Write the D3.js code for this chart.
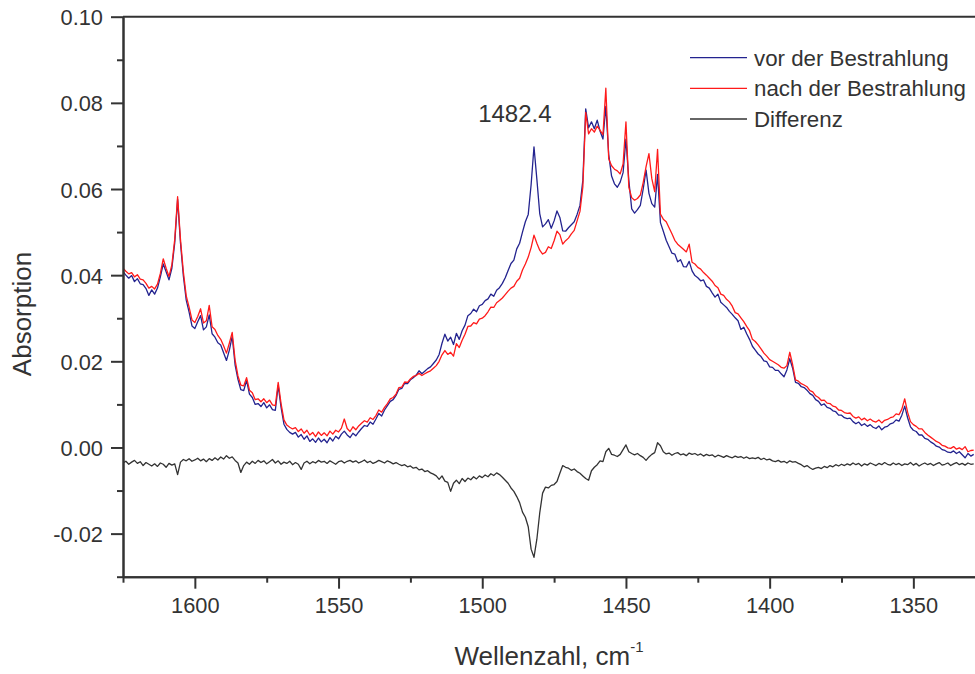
<!DOCTYPE html>
<html>
<head>
<meta charset="utf-8">
<script src="https://cdn.jsdelivr.net/npm/d3@7"></script>
<style>
  html, body { margin: 0; padding: 0; background: #fff; }
  svg { display: block; }
  text { font-family: Arial, "Liberation Sans", Helvetica, sans-serif; fill: #333; }
</style>
</head>
<body>
<svg id="chart" width="975" height="674"></svg>
<script>
// ---- DATA (absorption values in milli-units, 1 cm^-1 grid from 1625 down to 1329 cm^-1) ----
const waveStart = 1625;
const waveEnd = 1329;

const vorBestrahlung = [
  40.8, 40.0, 39.3, 39.9, 38.5, 39.2, 38.0, 37.8, 36.9, 35.3,
  36.6, 35.6, 37.0, 39.6, 42.6, 40.8, 38.9, 41.6, 47.5, 57.6,
  47.5, 39.8, 34.2, 31.4, 28.2, 27.6, 29.2, 30.6, 27.3, 28.0,
  30.8, 26.4, 25.6, 24.3, 23.8, 22.0, 20.2, 22.6, 25.8, 19.2,
  15.8, 13.4, 13.2, 15.6, 12.4, 11.6, 10.0, 10.2, 9.5, 10.4,
  9.2, 9.9, 8.8, 8.6, 14.4, 9.3, 5.4, 4.2, 3.5, 3.1,
  3.5, 2.4, 3.0, 1.9, 2.7, 1.4, 2.0, 1.2, 2.2, 1.3,
  1.9, 1.1, 2.3, 1.5, 2.6, 2.0, 3.1, 3.8, 2.9, 2.3,
  3.3, 2.7, 3.6, 4.4, 5.1, 4.9, 5.9, 5.4, 6.6, 7.9,
  7.3, 8.7, 9.7, 10.7, 11.1, 12.1, 13.5, 13.7, 14.9, 14.8,
  15.7, 16.2, 16.8, 17.8, 17.1, 17.7, 18.3, 18.7, 19.5, 20.3,
  21.6, 24.2, 26.3, 24.7, 25.6, 23.9, 26.5, 25.1, 27.1, 28.4,
  30.6, 31.1, 32.1, 31.5, 32.9, 33.2, 34.1, 34.5, 35.6, 35.1,
  36.5, 37.1, 38.1, 39.4, 41.1, 42.7, 43.5, 46.1, 47.4, 50.0,
  52.4, 54.1, 61.0, 69.8, 62.3, 54.3, 51.2, 51.9, 52.9, 50.9,
  52.6, 54.9, 53.4, 50.3, 50.2, 51.0, 51.7, 52.4, 54.1, 56.2,
  62.0, 78.6, 74.2, 75.6, 74.0, 76.0, 73.4, 71.6, 79.2, 68.0,
  63.0, 61.2, 60.4, 61.6, 63.8, 71.6, 62.0, 55.4, 54.4, 55.2,
  56.2, 60.0, 64.4, 59.0, 56.6, 55.8, 63.4, 52.2, 50.2, 48.1,
  46.6, 45.1, 44.9, 43.1, 43.6, 42.0, 41.9, 43.2, 41.0, 39.9,
  39.4, 38.7, 38.9, 37.4, 37.0, 35.9, 34.9, 35.6, 33.7, 33.1,
  32.5, 31.6, 30.9, 30.1, 29.4, 27.4, 27.9, 26.4, 25.1, 23.5,
  22.6, 21.7, 21.1, 20.1, 19.9, 18.7, 18.6, 17.9, 17.9, 17.1,
  16.4, 18.0, 20.6, 18.4, 15.1, 14.9, 14.1, 13.9, 13.3, 12.5,
  12.1, 11.1, 10.7, 9.8, 10.1, 9.3, 9.1, 8.5, 8.3, 7.5,
  7.5, 6.9, 6.7, 6.8, 6.0, 5.5, 5.9, 5.1, 5.5, 4.9,
  5.3, 4.7, 4.4, 5.0, 4.1, 4.7, 4.9, 5.5, 5.7, 6.4,
  6.1, 7.5, 9.6, 6.9, 4.8, 4.0, 3.7, 2.9, 2.9, 2.1,
  1.9, 1.3, 0.9, 0.3, 0.1, -0.5, -0.7, -1.1, -1.2, -0.8,
  -1.4, -1.0, -1.7, -2.4, -1.4, -2.0, -1.6
];

const nachBestrahlung = [
  41.6, 40.9, 40.3, 40.6, 39.6, 40.1, 39.1, 38.9, 38.1, 37.0,
  37.4, 36.8, 37.9, 40.4, 43.8, 41.6, 39.7, 42.4, 48.3, 58.2,
  48.3, 40.8, 35.2, 32.6, 29.6, 29.0, 30.4, 32.2, 28.9, 29.4,
  33.0, 28.0, 27.4, 26.0, 25.1, 23.6, 21.9, 24.2, 26.7, 20.3,
  16.6, 14.5, 14.3, 16.2, 13.3, 12.7, 11.1, 11.3, 10.6, 11.3,
  10.4, 11.0, 9.9, 9.7, 15.1, 10.2, 6.4, 5.2, 4.7, 4.3,
  4.6, 3.7, 4.3, 3.3, 4.0, 2.9, 3.5, 2.5, 3.6, 2.8,
  3.4, 2.7, 3.8, 3.1, 4.0, 3.6, 4.5, 6.6, 4.4, 3.7,
  4.8, 4.1, 5.0, 5.6, 6.2, 5.9, 6.9, 6.5, 7.4, 8.7,
  8.2, 9.3, 10.2, 11.3, 11.6, 12.4, 13.9, 14.0, 15.2, 15.1,
  15.9, 16.5, 16.7, 17.2, 16.7, 17.1, 17.5, 17.8, 18.4, 19.0,
  20.0, 21.5, 22.5, 21.6, 22.1, 21.2, 24.1, 23.2, 24.9, 26.3,
  28.1, 28.2, 29.0, 28.7, 29.8, 30.0, 30.6, 31.5, 32.6, 32.5,
  33.6, 34.1, 34.7, 35.5, 36.3, 37.0, 37.4, 38.6, 39.3, 41.2,
  42.6, 44.2, 46.4, 49.3, 47.4, 45.8, 44.9, 45.3, 46.6, 46.2,
  48.0, 50.2, 49.4, 47.2, 48.0, 48.6, 49.6, 50.4, 52.6, 54.8,
  60.5, 77.8, 72.8, 74.0, 73.2, 74.6, 73.6, 72.6, 83.4, 67.0,
  65.4, 64.6, 64.2, 63.5, 65.8, 75.6, 60.4, 58.0, 57.4, 57.8,
  58.6, 61.5, 65.2, 68.2, 62.4, 59.4, 69.2, 54.2, 53.0, 52.4,
  51.0, 49.6, 48.1, 47.2, 46.6, 46.0, 45.4, 47.2, 43.0, 42.6,
  41.8, 41.4, 40.6, 40.0, 39.3, 38.6, 37.6, 37.1, 35.6, 35.3,
  34.4, 33.8, 32.8, 31.3, 31.0, 30.1, 29.2, 28.1, 27.1, 25.1,
  24.6, 23.8, 22.9, 21.9, 21.2, 20.4, 20.0, 19.6, 19.2, 18.6,
  18.4, 19.0, 22.1, 19.2, 15.7, 15.4, 14.8, 14.5, 14.1, 13.2,
  12.9, 12.0, 11.6, 10.9, 11.0, 10.3, 10.2, 9.6, 9.4, 8.7,
  8.6, 8.1, 7.9, 8.0, 7.2, 6.8, 7.1, 6.4, 6.8, 6.2,
  6.6, 6.1, 5.9, 6.4, 5.7, 6.3, 6.5, 6.9, 7.1, 7.8,
  7.6, 8.9, 11.3, 8.2, 6.0, 5.3, 4.9, 4.3, 4.3, 3.5,
  2.9, 2.4, 1.9, 1.4, 1.1, 0.5, 0.3, -0.1, -0.2, 0.2,
  -0.4, -0.1, -0.5, 0.2, -1.0, -0.7, -0.6
];

const differenz = [
  -3.6, -3.2, -3.9, -3.4, -3.0, -3.7, -3.3, -4.2, -3.5, -3.9,
  -4.3, -3.8, -4.4, -3.6, -3.9, -4.6, -3.7, -4.1, -3.8, -6.3,
  -3.4, -2.8, -3.1, -2.6, -3.2, -2.9, -2.5, -3.1, -2.7, -3.3,
  -2.6, -3.0, -2.4, -2.9, -2.2, -2.7, -1.9, -2.5, -2.2, -3.0,
  -3.6, -5.8, -4.2, -3.4, -3.9, -3.2, -3.7, -3.0, -3.5, -3.1,
  -3.8, -3.3, -2.8, -3.6, -3.1, -3.9, -3.4, -3.7, -3.2, -4.0,
  -3.5, -3.9, -5.1, -3.6, -3.2, -3.8, -3.3, -3.6, -3.0, -3.4,
  -3.2, -3.7, -3.1, -3.5, -3.9, -3.3, -3.1, -3.6, -3.2, -3.0,
  -3.4, -3.1, -3.6, -3.3, -2.9, -3.5, -3.2, -3.7, -3.4, -3.0,
  -3.3, -3.6, -3.1, -3.4, -3.8, -3.5, -3.9, -4.2, -4.0, -4.5,
  -4.3, -4.8, -4.6, -5.2, -5.0, -5.6, -5.4, -5.9, -6.2, -6.6,
  -7.4, -6.6, -7.8, -8.1, -10.2, -8.3, -7.6, -8.4, -7.2, -7.9,
  -7.1, -7.5, -6.8, -7.3, -6.6, -7.0, -6.4, -6.8, -6.1, -6.5,
  -5.9, -6.3, -6.9, -7.6, -8.3, -9.4, -10.2, -11.4, -12.8, -15.0,
  -16.2, -18.4, -23.6, -25.5, -21.3, -15.2, -10.6, -9.2, -9.4, -8.8,
  -8.6, -7.9, -6.0, -4.2, -4.6, -4.8, -5.3, -5.0, -5.6, -6.0,
  -6.6, -7.2, -7.6, -5.4, -4.6, -4.0, -3.1, -3.3, -1.0, -0.2,
  -1.6, -1.8, -2.1, -1.6, -0.5, 0.6, -1.0, -1.4, -1.7, -1.4,
  -1.9, -2.3, -3.0, -2.2, -1.6, -1.2, 1.1, 0.4, -1.0, -1.5,
  -1.3, -1.8, -1.4, -1.2, -1.7, -1.5, -1.9, -1.3, -1.6, -1.4,
  -1.8, -1.5, -2.0, -1.6, -1.9, -1.7, -2.2, -1.8, -2.0, -2.3,
  -1.9, -2.2, -2.4, -2.0, -2.3, -2.1, -2.5, -2.2, -2.6, -2.4,
  -2.6, -2.3, -2.8, -2.5, -2.9, -2.7, -3.1, -3.3, -3.0, -3.4,
  -3.2, -3.6, -3.1, -3.4, -3.3, -3.7, -4.0, -4.5, -4.2, -4.7,
  -5.1, -4.8, -4.6, -4.9, -4.4, -4.7, -4.2, -4.5, -4.0, -4.3,
  -3.9, -4.2, -3.8, -4.1, -3.6, -4.0, -3.7, -4.3, -3.8, -4.1,
  -3.6, -3.9, -4.2, -3.7, -4.0, -3.5, -3.9, -4.1, -3.6, -4.0,
  -3.7, -4.2, -3.8, -4.0, -3.5, -4.1, -3.7, -4.3, -3.9, -3.6,
  -4.0, -3.7, -4.2, -3.8, -3.5, -4.1, -3.9, -3.6, -4.2, -3.8,
  -3.5, -4.0, -3.7, -4.1, -3.6, -3.9, -3.8
];

const seriesNames = ["vor der Bestrahlung", "nach der Bestrahlung", "Differenz"];
const seriesColors = ["#23238f", "#ff1a1a", "#333333"];

const xMajorTicks = [1600, 1550, 1500, 1450, 1400, 1350];
const xMajorLabels = ["1600", "1550", "1500", "1450", "1400", "1350"];
const xMinorTicks = [1625, 1575, 1525, 1475, 1425, 1375, 1325];
const yMajorTicks = [-20, 0, 20, 40, 60, 80, 100];
const yMajorLabels = ["-0.02", "0.00", "0.02", "0.04", "0.06", "0.08", "0.10"];
const yMinorTicks = [-30, -10, 10, 30, 50, 70, 90];

const annotationText = "1482.4";
const annotationX = 1482.4;
const annotationY = 75.5;

// ---- CHART ----
const svg = d3.select("#chart");
const W = 975, H = 674;
const plotLeft = 123, plotTop = 16.7, plotBottom = 576.7;

const x = d3.scaleLinear().domain([1625, 1325]).range([plotLeft, 985.2]);
const y = d3.scaleLinear().domain([-30, 100]).range([plotBottom, plotTop]);

const waves = d3.range(waveStart, waveEnd - 0.5, -1);
const allSeries = [vorBestrahlung, nachBestrahlung, differenz];

svg.append("defs").append("clipPath").attr("id", "clip")
  .append("rect").attr("x", plotLeft).attr("y", plotTop).attr("width", W - plotLeft).attr("height", plotBottom - plotTop);

const line = d3.line().x(d => x(d[0])).y(d => y(d[1]));

const plot = svg.append("g").attr("clip-path", "url(#clip)");
allSeries.forEach((s, i) => {
  plot.append("path")
    .datum(waves.map((w, j) => [w, s[j]]))
    .attr("fill", "none")
    .attr("stroke", seriesColors[i])
    .attr("stroke-width", 1.3)
    .attr("stroke-linejoin", "round")
    .attr("d", line);
});

const axisColor = "#333";
const fontSize = 21.8;

function styleAxis(g) {
  g.selectAll("path.domain").attr("stroke", axisColor).attr("stroke-width", 2);
  g.selectAll(".tick line").attr("stroke", axisColor).attr("stroke-width", 2);
  g.selectAll(".tick text").attr("fill", "#333").style("font-size", fontSize + "px")
    .style("font-family", "Arial, 'Liberation Sans', sans-serif");
}

// y axis
const yMinor = svg.append("g").attr("transform", `translate(${plotLeft},0)`)
  .call(d3.axisLeft(y).tickValues(yMinorTicks).tickSize(6).tickSizeOuter(0).tickFormat(""));
styleAxis(yMinor);
const yMajor = svg.append("g").attr("transform", `translate(${plotLeft},0)`)
  .call(d3.axisLeft(y).tickValues(yMajorTicks).tickSize(12).tickSizeOuter(0).tickPadding(8)
    .tickFormat((d, i) => yMajorLabels[i]));
styleAxis(yMajor);
yMajor.selectAll(".tick text").attr("dy", "0.37em");

// x axis
const xMinor = svg.append("g").attr("transform", `translate(0,${plotBottom})`)
  .call(d3.axisBottom(x).tickValues(xMinorTicks).tickSize(6).tickSizeOuter(0).tickFormat(""));
styleAxis(xMinor);
const xMajor = svg.append("g").attr("transform", `translate(0,${plotBottom})`)
  .call(d3.axisBottom(x).tickValues(xMajorTicks).tickSize(12).tickSizeOuter(0).tickPadding(9)
    .tickFormat((d, i) => xMajorLabels[i]));
styleAxis(xMajor);

// top frame line
svg.append("line").attr("x1", plotLeft).attr("x2", W + 10).attr("y1", plotTop).attr("y2", plotTop)
  .attr("stroke", axisColor).attr("stroke-width", 2);

// axis titles
const xt = svg.append("text").attr("x", 549).attr("y", 665).attr("text-anchor", "middle")
  .style("font-size", "26px");
xt.append("tspan").text("Wellenzahl, cm");
xt.append("tspan").attr("dy", -13).style("font-size", "15px").text("-1");

svg.append("text").attr("transform", "translate(31,314) rotate(-90)")
  .attr("text-anchor", "middle").style("font-size", "26px").text("Absorption");

// annotation
svg.append("text").attr("x", x(annotationX) - 18).attr("y", y(annotationY))
  .attr("text-anchor", "middle").style("font-size", "24px").text(annotationText);

// legend
const legendY = [57.7, 88.3, 119];
seriesNames.forEach((name, i) => {
  svg.append("line").attr("x1", 690).attr("x2", 747).attr("y1", legendY[i]).attr("y2", legendY[i])
    .attr("stroke", seriesColors[i]).attr("stroke-width", 1.3);
  svg.append("text").attr("x", 754).attr("y", legendY[i] + 8).style("font-size", "22.3px").text(name);
});
</script>
</body>
</html>
